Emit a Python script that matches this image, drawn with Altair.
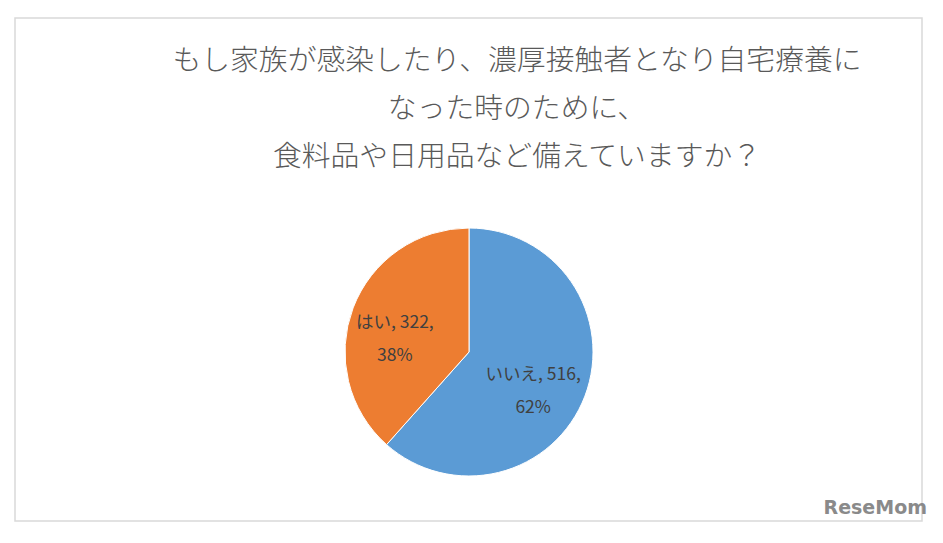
import altair as alt
import pandas as pd

# ---- data ----
categories = ["いいえ", "はい"]
counts = [516, 322]
colors = ["#5B9BD5", "#ED7D31"]
title_lines = [
    "もし家族が感染したり、濃厚接触者となり自宅療養に",
    "なった時のために、",
    "食料品や日用品など備えていますか？",
]
watermark = "ReseMom"

df = pd.DataFrame({"cat": categories, "n": counts, "ord": list(range(len(categories)))})

FONT = "Noto Sans CJK JP"
CX, CY = 454, 334  # pie centre inside the framed view

base = alt.Chart(df).transform_joinaggregate(total="sum(n)").transform_calculate(
    label="datum.cat + ', ' + datum.n + ',\\n' + (round(datum.n / datum.total * 100)) + '%'",
)

pie = base.mark_arc(radius=124, stroke="#ffffff", strokeWidth=1).encode(
    theta=alt.Theta("n:Q", stack=True),
    order=alt.Order("ord:Q"),
    color=alt.Color("cat:N", scale=alt.Scale(domain=categories, range=colors), legend=None),
    x=alt.value(CX),
    y=alt.value(CY),
)

labels = base.mark_text(
    radius=74, font=FONT, fontSize=17.5, color="#404040", lineBreak="\n", lineHeight=33
).encode(
    theta=alt.Theta("n:Q", stack=True),
    order=alt.Order("ord:Q"),
    text="label:N",
    x=alt.value(CX - 5),
    y=alt.value(CY - 3),
)

title = alt.Chart(alt.Data(values=[{}])).mark_text(
    font=FONT, fontSize=28.8, fontWeight=300, color="#595959",
    align="center", baseline="top", lineHeight=48,
).encode(
    text=alt.value(title_lines),
    x=alt.value(502),
    y=alt.value(29),
)

wm = alt.Chart(alt.Data(values=[{}])).mark_text(
    font="DejaVu Sans", fontSize=19, fontWeight="bold", color="#8a8a8a",
    align="right", baseline="middle",
).encode(
    text=alt.value(watermark),
    x=alt.value(912),
    y=alt.value(490),
)

chart = alt.layer(pie, labels, title, wm).properties(
    width=907,
    height=503,
    autosize=alt.AutoSizeParams(type="none"),
    padding={"left": 7, "top": 10, "right": 13, "bottom": 10},
).configure_view(stroke="#D9D9D9", strokeWidth=1.5)

chart.save("out.html", embed_options={"renderer": "svg", "actions": False})
